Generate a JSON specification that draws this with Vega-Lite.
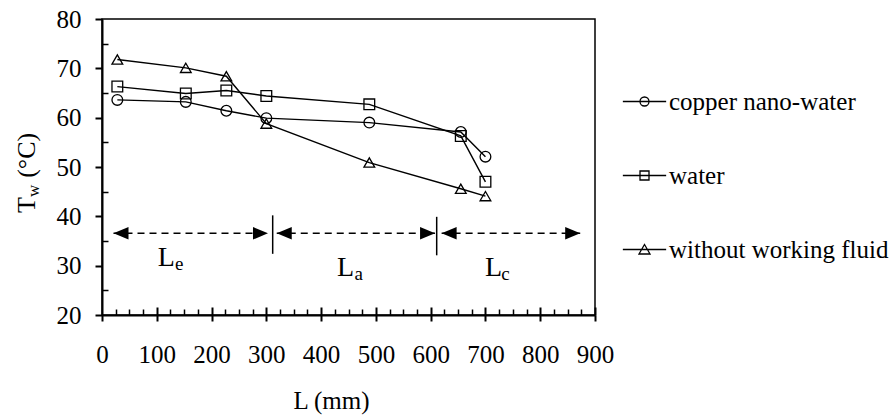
{
  "$schema": "https://vega.github.io/schema/vega-lite/v6.json",
  "width": 493,
  "height": 296,
  "autosize": {"type": "none"},
  "padding": {"left": 102, "top": 19, "right": 298, "bottom": 104},
  "background": "white",
  "config": {
    "font": "Liberation Serif",
    "view": {"stroke": "black", "strokeWidth": 1.5},
    "axis": {"grid": false, "labelFont": "Liberation Serif", "titleFont": "Liberation Serif", "labelColor": "black", "tickColor": "black", "domainColor": "black", "titleColor": "black", "titleFontWeight": "normal", "labelFontSize": 25, "titleFontSize": 25, "labelOverlap": false, "labelFlush": false},
    "legend": {"labelFont": "Liberation Serif", "labelFontSize": 25, "labelColor": "black", "labelLimit": 0}
  },
  "datasets": {
    "series": [
      {"L": 28, "Tw": 63.6, "fluid": "copper nano-water"},
      {"L": 153, "Tw": 63.2, "fluid": "copper nano-water"},
      {"L": 227, "Tw": 61.4, "fluid": "copper nano-water"},
      {"L": 300, "Tw": 59.9, "fluid": "copper nano-water"},
      {"L": 488, "Tw": 59.0, "fluid": "copper nano-water"},
      {"L": 655, "Tw": 57.1, "fluid": "copper nano-water"},
      {"L": 700, "Tw": 52.1, "fluid": "copper nano-water"},
      {"L": 28, "Tw": 66.3, "fluid": "water"},
      {"L": 153, "Tw": 64.9, "fluid": "water"},
      {"L": 227, "Tw": 65.5, "fluid": "water"},
      {"L": 300, "Tw": 64.4, "fluid": "water"},
      {"L": 488, "Tw": 62.7, "fluid": "water"},
      {"L": 655, "Tw": 56.3, "fluid": "water"},
      {"L": 700, "Tw": 47.0, "fluid": "water"},
      {"L": 28, "Tw": 71.8, "fluid": "without working fluid"},
      {"L": 153, "Tw": 70.1, "fluid": "without working fluid"},
      {"L": 227, "Tw": 68.4, "fluid": "without working fluid"},
      {"L": 300, "Tw": 58.8, "fluid": "without working fluid"},
      {"L": 488, "Tw": 50.9, "fluid": "without working fluid"},
      {"L": 655, "Tw": 45.6, "fluid": "without working fluid"},
      {"L": 700, "Tw": 44.1, "fluid": "without working fluid"}
    ],
    "arrows": [
      {"x1": 21, "x2": 303, "y": 36.56},
      {"x1": 319, "x2": 608, "y": 36.56},
      {"x1": 620, "x2": 873, "y": 36.56}
    ],
    "seps": [
      {"x": 311.6, "y1": 32.4, "y2": 40.2},
      {"x": 611, "y1": 32.1, "y2": 39.9}
    ],
    "labels": [
      {"t": "L", "x": 102, "y": 29.9},
      {"t": "L", "x": 429, "y": 27.9},
      {"t": "L", "x": 699, "y": 27.9}
    ],
    "subs": [
      {"t": "e", "x": 133.3, "y": 29.1},
      {"t": "a", "x": 461, "y": 27.1},
      {"t": "c", "x": 729, "y": 27.1}
    ],
    "ytitle": [
      {"t": "T", "x": -122, "y": 40.7},
      {"t": "(°C)", "x": -122, "y": 47.8}
    ],
    "ytitlesub": [
      {"t": "w", "x": -114.7, "y": 43.9}
    ]
  },
  "resolve": {"scale": {"shape": "independent"}, "axis": {"x": "independent", "y": "independent"}},
  "layer": [
    {
      "data": {"name": "series"},
      "mark": {"type": "line", "color": "black", "strokeWidth": 1.4},
      "encoding": {
        "x": {"field": "L", "type": "quantitative", "scale": {"domain": [0, 900], "nice": false, "zero": false},
          "axis": {"orient": "bottom", "values": [0, 100, 200, 300, 400, 500, 600, 700, 800, 900], "tickSize": 6, "tickWidth": 2, "domainWidth": 2, "labelPadding": 21, "labelFont": "Times New Roman", "labelFontSize": 25, "labelOverlap": false, "labelFlush": false, "labelColor": "black", "title": "L (mm)", "titleFont": "Times New Roman", "titleFontSize": 25, "titleFontWeight": "normal", "titleX": 229, "titleY": 93, "titleBaseline": "alphabetic", "titleAnchor": "start", "titleAlign": "center"}},
        "y": {"field": "Tw", "type": "quantitative", "scale": {"domain": [20, 80], "nice": false, "zero": false},
          "axis": {"orient": "left", "values": [20, 30, 40, 50, 60, 70, 80], "tickSize": 7, "tickWidth": 2, "domainWidth": 2, "labelPadding": 14, "labelFont": "Times New Roman", "labelFontSize": 25, "labelOverlap": false, "labelFlush": false, "labelColor": "black", "title": null}},
        "detail": {"field": "fluid"}
      }
    },
    {
      "data": {"name": "series"},
      "mark": {"type": "point", "filled": false, "color": "black", "strokeWidth": 1.3, "opacity": 1, "size": 115},
      "encoding": {
        "x": {"field": "L", "type": "quantitative", "scale": {"domain": [0, 900], "nice": false, "zero": false},
          "axis": {"orient": "bottom", "values": [100, 200, 300, 400, 500, 600, 700, 800, 900], "tickSize": -8, "tickWidth": 2, "domain": false, "labels": false, "title": null}},
        "y": {"field": "Tw", "type": "quantitative", "scale": {"domain": [20, 80], "nice": false, "zero": false},
          "axis": {"orient": "left", "values": [25, 35, 45, 55, 65, 75], "tickSize": -6, "tickWidth": 1.5, "domain": false, "labels": false, "title": null}},
        "shape": {"field": "fluid", "type": "nominal", "scale": {"domain": ["copper nano-water", "water", "without working fluid"], "range": ["circle", "square", "triangle-up"]}, "legend": null}
      }
    },
    {
      "data": {"name": "series"},
      "transform": [{"filter": "datum.L < 0"}],
      "mark": {"type": "point", "filled": false, "color": "black", "strokeWidth": 1.3, "opacity": 1},
      "encoding": {
        "x": {"field": "L", "type": "quantitative", "scale": {"domain": [0, 900], "nice": false, "zero": false},
          "axis": {"orient": "bottom", "values": [25, 50, 75, 125, 150, 175, 225, 250, 275, 325, 350, 375, 425, 450, 475, 525, 550, 575, 625, 650, 675, 725, 750, 775, 825, 850, 875], "tickSize": -6, "tickWidth": 1.5, "domain": false, "labels": false, "title": null}},
        "y": {"field": "Tw", "type": "quantitative", "scale": {"domain": [20, 80], "nice": false, "zero": false}, "axis": null},
        "shape": {"field": "fluid", "type": "nominal",
          "scale": {"domain": ["copper nano-water", "water", "without working fluid"],
            "range": ["M-4.33,0L4.33,0M0.9,0A0.9,0.9,0,1,1,-0.9,0A0.9,0.9,0,1,1,0.9,0", "M-4.33,0L4.33,0M-0.9,-0.9L0.9,-0.9L0.9,0.9L-0.9,0.9Z", "M-4.33,0L4.33,0M0,-1L1.1,0.9L-1.1,0.9Z"]},
          "legend": {"orient": "none", "legendX": 530, "legendY": 70, "padding": 0, "title": null, "rowPadding": 48, "labelOffset": 12, "labelLimit": 0, "labelFont": "Times New Roman", "labelFontSize": 25, "labelColor": "black", "symbolSize": 100, "symbolStrokeWidth": 1.3, "symbolStrokeColor": "black"}}
      }
    },
    {
      "data": {"name": "arrows"},
      "mark": {"type": "rule", "color": "black", "strokeWidth": 1.5, "strokeDash": [7, 5]},
      "encoding": {
        "x": {"field": "x1", "type": "quantitative", "scale": {"domain": [0, 900], "nice": false, "zero": false}, "axis": null},
        "x2": {"field": "x2"},
        "y": {"field": "y", "type": "quantitative", "scale": {"domain": [20, 80], "nice": false, "zero": false}, "axis": null}
      }
    },
    {
      "data": {"name": "arrows"},
      "mark": {"type": "point", "filled": true, "color": "black", "opacity": 1, "size": 100, "shape": "M0,0L3,-1.25L3,1.25Z"},
      "encoding": {
        "x": {"field": "x1", "type": "quantitative", "scale": {"domain": [0, 900], "nice": false, "zero": false}, "axis": null},
        "y": {"field": "y", "type": "quantitative", "scale": {"domain": [20, 80], "nice": false, "zero": false}, "axis": null}
      }
    },
    {
      "data": {"name": "arrows"},
      "mark": {"type": "point", "filled": true, "color": "black", "opacity": 1, "size": 100, "shape": "M0,0L-3,-1.25L-3,1.25Z"},
      "encoding": {
        "x": {"field": "x2", "type": "quantitative", "scale": {"domain": [0, 900], "nice": false, "zero": false}, "axis": null},
        "y": {"field": "y", "type": "quantitative", "scale": {"domain": [20, 80], "nice": false, "zero": false}, "axis": null}
      }
    },
    {
      "data": {"name": "seps"},
      "mark": {"type": "rule", "color": "black", "strokeWidth": 1.5},
      "encoding": {
        "x": {"field": "x", "type": "quantitative", "scale": {"domain": [0, 900], "nice": false, "zero": false}, "axis": null},
        "y": {"field": "y1", "type": "quantitative", "scale": {"domain": [20, 80], "nice": false, "zero": false}, "axis": null},
        "y2": {"field": "y2"}
      }
    },
    {
      "data": {"name": "labels"},
      "mark": {"type": "text", "font": "Times New Roman", "fill": "black", "fontSize": 28, "align": "left", "baseline": "alphabetic"},
      "encoding": {
        "x": {"field": "x", "type": "quantitative", "scale": {"domain": [0, 900], "nice": false, "zero": false}, "axis": null},
        "y": {"field": "y", "type": "quantitative", "scale": {"domain": [20, 80], "nice": false, "zero": false}, "axis": null},
        "text": {"field": "t"}
      }
    },
    {
      "data": {"name": "subs"},
      "mark": {"type": "text", "font": "Times New Roman", "fill": "black", "fontSize": 19, "align": "left", "baseline": "alphabetic"},
      "encoding": {
        "x": {"field": "x", "type": "quantitative", "scale": {"domain": [0, 900], "nice": false, "zero": false}, "axis": null},
        "y": {"field": "y", "type": "quantitative", "scale": {"domain": [20, 80], "nice": false, "zero": false}, "axis": null},
        "text": {"field": "t"}
      }
    },
    {
      "data": {"name": "ytitle"},
      "mark": {"type": "text", "font": "Times New Roman", "fill": "black", "fontSize": 26, "align": "left", "baseline": "alphabetic", "angle": 270},
      "encoding": {
        "x": {"field": "x", "type": "quantitative", "scale": {"domain": [0, 900], "nice": false, "zero": false}, "axis": null},
        "y": {"field": "y", "type": "quantitative", "scale": {"domain": [20, 80], "nice": false, "zero": false}, "axis": null},
        "text": {"field": "t"}
      }
    },
    {
      "data": {"name": "ytitlesub"},
      "mark": {"type": "text", "font": "Times New Roman", "fill": "black", "fontSize": 17, "align": "left", "baseline": "alphabetic", "angle": 270},
      "encoding": {
        "x": {"field": "x", "type": "quantitative", "scale": {"domain": [0, 900], "nice": false, "zero": false}, "axis": null},
        "y": {"field": "y", "type": "quantitative", "scale": {"domain": [20, 80], "nice": false, "zero": false}, "axis": null},
        "text": {"field": "t"}
      }
    }
  ]
}
